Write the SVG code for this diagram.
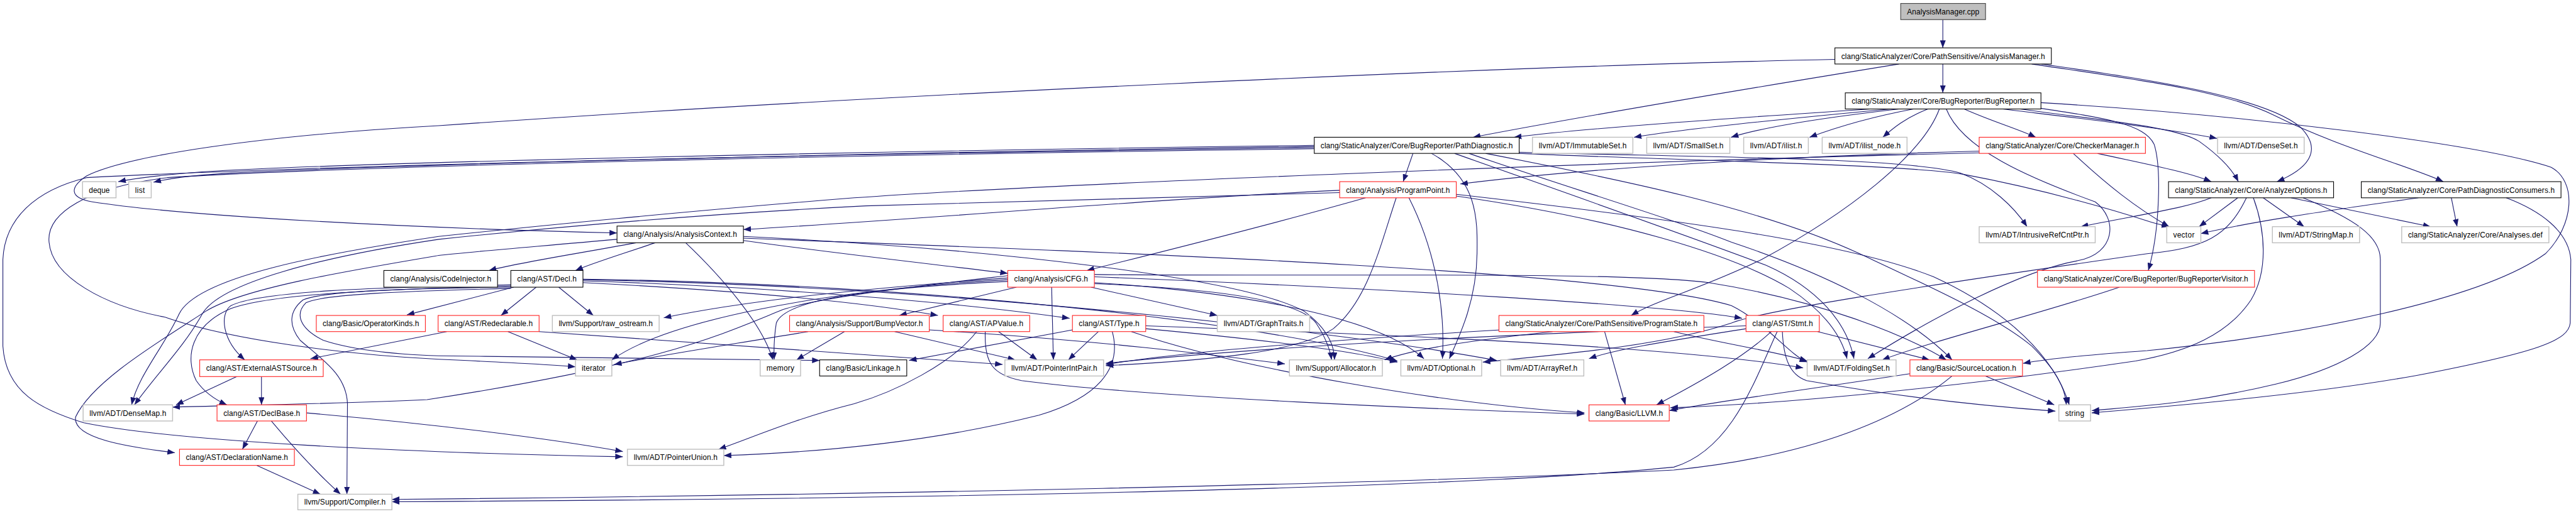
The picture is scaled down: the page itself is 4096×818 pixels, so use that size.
<svg xmlns="http://www.w3.org/2000/svg" width="4096" height="818" viewBox="0 0 4096 818">
<defs>
<style>
.e{fill:none;stroke:#191970;stroke-width:1.2;marker-end:url(#a)}
.n rect{fill:#fff;stroke-width:1.2}
.b rect{stroke:#000}
.r rect{stroke:#ff2020}
.g rect{stroke:#c0c0c0;stroke-width:1.6}
.c rect{fill:#bfbfbf;stroke:#404040}
text{font-family:"Liberation Sans",Arial,sans-serif;font-size:13px;fill:#000;text-anchor:middle}
</style>
<marker id="a" markerUnits="userSpaceOnUse" markerWidth="14" markerHeight="10" refX="13" refY="5" orient="auto" viewBox="0 0 14 10"><path d="M0,0 L13,5 L0,10 z" fill="#191970"/></marker>
</defs>
<rect width="4096" height="818" fill="#fff"/>
<g transform="scale(0.91777)">
<g id="edges">
<path class="e" d="M3366,34 L3366,83"/>
<path class="e" d="M3366,111 L3366,161"/>
<path class="e" d="M3290,111 C3050,150 2750,200 2552,238"/>
<path class="e" d="M3179,103 C2600,115 1500,165 760,218 C450,235 220,270 150,305 C120,325 120,343 160,350 C320,375 700,395 1069,404"/>
<path class="e" d="M3537,111 C3700,135 3920,165 3985,220 C4025,260 4000,292 3945,315"/>
<path class="e" d="M3520,111 C3680,135 3850,155 3940,200 C4050,255 4180,290 4233,315"/>
<path class="e" d="M3240,189 C3000,205 2750,222 2623,238"/>
<path class="e" d="M3275,189 C3050,210 2900,226 2831,238"/>
<path class="e" d="M3290,189 C3150,205 3050,222 2999,238"/>
<path class="e" d="M3315,189 C3230,205 3170,225 3135,238"/>
<path class="e" d="M3340,189 C3300,205 3280,222 3262,238"/>
<path class="e" d="M3403,189 C3450,210 3500,225 3527,238"/>
<path class="e" d="M3360,189 C3330,270 3200,370 3052,450 C2950,500 2870,520 2826,547"/>
<path class="e" d="M3372,189 C3400,260 3520,310 3630,350 C3670,380 3665,440 3600,452 C3500,470 3350,550 3236,622"/>
<path class="e" d="M3536,178 C3900,200 4300,250 4420,290 C4465,315 4460,390 4410,440 C4300,520 4000,580 3720,608 C3620,615 3550,622 3505,630"/>
<path class="e" d="M3470,189 C3600,205 3750,222 3841,240"/>
<path class="e" d="M3500,189 C3650,210 3770,220 3810,245 C3845,270 3868,295 3878,315"/>
<path class="e" d="M3530,187 C3650,205 3715,215 3732,250 C3745,290 3742,400 3722,469"/>
<path class="e" d="M3429,262 C3200,268 2800,285 2530,319"/>
<path class="e" d="M3429,265 C2800,280 1800,320 1480,343 C1200,365 900,395 760,410 C560,440 340,480 310,545 C285,600 240,650 228,702"/>
<path class="e" d="M3634,266 C3720,285 3790,298 3831,315"/>
<path class="e" d="M3592,266 C3650,320 3700,360 3758,393"/>
<path class="e" d="M2277,252 C1500,262 600,282 350,298 C270,304 230,310 205,315"/>
<path class="e" d="M2277,254 C1500,265 700,285 400,300 C320,305 290,310 266,316"/>
<path class="e" d="M2277,256 C1500,266 600,285 150,308 C60,330 8,380 5,450 L5,600 C10,680 70,710 145,733 C300,765 700,785 1079,792"/>
<path class="e" d="M2277,258 C1500,268 600,288 290,308 C150,325 80,370 85,420 C90,480 180,530 286,550 C400,590 600,615 760,623 C850,627 950,632 997,636"/>
<path class="e" d="M2448,266 L2431,315"/>
<path class="e" d="M2632,264 C2900,272 3300,272 3396,300 C3450,320 3490,360 3512,393"/>
<path class="e" d="M2480,266 C2560,310 2560,380 2559,440 C2558,520 2530,580 2511,622"/>
<path class="e" d="M2574,266 C2800,310 3050,360 3222,440 C3350,500 3460,550 3520,600 C3560,640 3578,670 3580,702"/>
<path class="e" d="M2545,266 C2700,320 2900,380 3000,420 C3150,470 3300,540 3382,624"/>
<path class="e" d="M2520,266 C2700,330 2900,400 3060,460 C3150,500 3200,560 3212,622"/>
<path class="e" d="M2632,266 C2900,278 3300,285 3400,302 C3550,330 3680,370 3720,383 C3735,388 3745,390 3758,393"/>
<path class="e" d="M2321,330 C2000,345 1600,380 1288,398"/>
<path class="e" d="M2366,343 C2200,390 2000,440 1883,469"/>
<path class="e" d="M2321,334 C2000,345 1700,352 1500,357 C1200,372 950,395 760,415 C560,445 380,490 350,545 C320,600 270,650 233,702"/>
<path class="e" d="M2419,343 C2390,430 2370,520 2310,570 C2250,610 2100,625 1916,634"/>
<path class="e" d="M2441,343 C2480,420 2505,520 2499,622"/>
<path class="e" d="M2523,340 C2800,380 3000,440 3100,500 C3160,540 3190,580 3200,622"/>
<path class="e" d="M2523,337 C2900,380 3200,420 3350,480 C3480,540 3560,620 3585,702"/>
<path class="e" d="M1102,421 C1000,440 900,455 847,469"/>
<path class="e" d="M1135,421 C1080,440 1030,455 997,469"/>
<path class="e" d="M1188,421 C1250,480 1320,560 1339,624"/>
<path class="e" d="M1288,417 C1450,440 1650,462 1746,474"/>
<path class="e" d="M1288,410 C1700,430 2150,480 2260,540 C2300,570 2312,600 2312,624"/>
<path class="e" d="M1288,413 C2000,440 2800,470 3000,530 C3060,560 3100,615 3131,628"/>
<path class="e" d="M1069,415 C900,430 800,438 760,443 C600,470 420,500 356,540 C280,590 160,660 131,723 C125,760 220,775 303,785"/>
<path class="e" d="M890,498 L705,546"/>
<path class="e" d="M885,494 C650,498 450,505 400,530 C380,545 385,590 424,624"/>
<path class="e" d="M885,496 C650,502 470,510 400,535 C330,565 320,620 340,660 C355,682 375,694 393,702"/>
<path class="e" d="M885,498 C700,500 560,505 525,520 C500,540 500,565 520,590 C560,625 600,650 602,700 L601,857"/>
<path class="e" d="M885,500 C700,505 560,510 530,525 C510,545 520,570 560,590 C620,610 700,615 760,617 C1000,620 1250,622 1420,625"/>
<path class="e" d="M929,498 L868,547"/>
<path class="e" d="M968,498 L1028,547"/>
<path class="e" d="M1010,490 C1300,505 1500,525 1625,547"/>
<path class="e" d="M1010,487 C1400,500 1700,530 1853,552"/>
<path class="e" d="M1010,485 C1600,495 2300,570 2593,625"/>
<path class="e" d="M1010,484 C1600,492 2200,560 2421,626"/>
<path class="e" d="M1746,478 C1600,495 1420,515 1356,537 C1250,580 1150,630 740,693 C600,700 400,703 299,706"/>
<path class="e" d="M1746,482 C1500,500 1300,520 1150,551"/>
<path class="e" d="M1746,485 C1400,505 1150,560 1060,624"/>
<path class="e" d="M1746,488 C1500,500 1360,520 1345,560 C1340,590 1341,610 1341,624"/>
<path class="e" d="M1761,498 L1558,547"/>
<path class="e" d="M1822,498 L1825,624"/>
<path class="e" d="M1890,498 L2109,547"/>
<path class="e" d="M1896,480 C2400,500 2900,530 3018,552"/>
<path class="e" d="M1896,476 C2300,480 2800,470 2960,490 C3150,520 3300,580 3372,624"/>
<path class="e" d="M1896,490 C2200,510 2400,560 2467,622"/>
<path class="e" d="M1896,492 C2100,500 2250,520 2280,560 C2300,590 2305,610 2307,624"/>
<path class="e" d="M1550,575 L1759,624"/>
<path class="e" d="M1610,572 C1900,590 2100,615 2226,631"/>
<path class="e" d="M1400,575 C1250,600 1150,615 1064,632"/>
<path class="e" d="M1463,575 L1380,624"/>
<path class="e" d="M1730,575 L1797,624"/>
<path class="e" d="M1692,575 C1650,630 1550,680 1480,700 C1380,725 1300,760 1245,779"/>
<path class="e" d="M1707,575 C1705,630 1720,650 1770,660 C2000,690 2500,710 2745,718"/>
<path class="e" d="M1858,572 L1575,625"/>
<path class="e" d="M1903,575 L1851,624"/>
<path class="e" d="M1927,575 C1945,640 1900,690 1800,720 C1600,770 1400,785 1254,790"/>
<path class="e" d="M1960,575 C2150,640 2500,700 2745,716"/>
<path class="e" d="M1985,565 C2400,580 2900,600 3124,638"/>
<path class="e" d="M1985,570 C2200,590 2350,610 2421,628"/>
<path class="e" d="M774,575 C700,590 620,605 538,622"/>
<path class="e" d="M934,575 C1300,600 1600,620 1737,632"/>
<path class="e" d="M880,575 L1000,624"/>
<path class="e" d="M453,652 L453,702"/>
<path class="e" d="M412,652 L305,702"/>
<path class="e" d="M446,730 L420,779"/>
<path class="e" d="M470,730 C520,790 560,830 590,857"/>
<path class="e" d="M531,716 C750,735 950,760 1079,783"/>
<path class="e" d="M445,807 L555,857"/>
<path class="e" d="M3149,575 L3343,624"/>
<path class="e" d="M3069,575 C3020,620 2950,660 2870,702"/>
<path class="e" d="M3088,575 C3090,620 3100,650 3130,660 C3300,690 3450,705 3561,713"/>
<path class="e" d="M3079,575 C3040,660 3000,780 2900,810 C2500,850 1500,866 679,870"/>
<path class="e" d="M3382,652 C3300,720 3150,790 2900,815 C2400,840 1500,858 679,866"/>
<path class="e" d="M3309,648 C3100,680 2950,700 2892,712"/>
<path class="e" d="M3440,652 L3559,702"/>
<path class="e" d="M3025,570 C2900,590 2800,605 2753,622"/>
<path class="e" d="M3025,565 C2600,580 2200,600 1916,630"/>
<path class="e" d="M2780,575 L2816,702"/>
<path class="e" d="M2690,575 C2550,590 2450,605 2399,624"/>
<path class="e" d="M2600,572 C2300,590 2050,610 1916,632"/>
<path class="e" d="M2900,575 C2980,595 3080,610 3131,626"/>
<path class="e" d="M3672,498 C3550,540 3350,590 3261,624"/>
<path class="e" d="M3877,343 L3810,393"/>
<path class="e" d="M3921,343 L3992,393"/>
<path class="e" d="M3969,343 L4211,393"/>
<path class="e" d="M3831,343 C3790,360 3720,370 3605,393"/>
<path class="e" d="M3990,343 C4080,380 4124,410 4124,450 L4124,560 C4124,600 4050,640 3943,666 C3800,700 3700,705 3624,712"/>
<path class="e" d="M3904,343 C3925,400 3930,470 3900,520 C3860,580 3790,610 3700,626 C3400,670 3100,700 2894,707"/>
<path class="e" d="M3892,343 C3860,410 3820,430 3720,440 C3300,500 3050,540 3000,560 C2880,600 2700,615 2569,628"/>
<path class="e" d="M4190,343 C4000,370 3900,385 3813,405"/>
<path class="e" d="M4247,343 L4257,393"/>
<path class="e" d="M4342,343 C4400,365 4450,400 4454,450 L4453,560 C4450,590 4400,610 4187,651 C4000,685 3750,705 3624,716"/>
</g>
<g id="n0" class="n c"><rect x="3293" y="6" width="147" height="28"/><text x="3366.5" y="25" textLength="125">AnalysisManager.cpp</text></g>
<g id="n1" class="n b"><rect x="3179" y="83" width="375" height="28"/><text x="3366.5" y="102" textLength="353">clang/StaticAnalyzer/Core/PathSensitive/AnalysisManager.h</text></g>
<g id="n2" class="n b"><rect x="3197" y="161" width="339" height="28"/><text x="3366.5" y="180" textLength="317">clang/StaticAnalyzer/Core/BugReporter/BugReporter.h</text></g>
<g id="n3" class="n b"><rect x="2277" y="238" width="355" height="28"/><text x="2454.5" y="257" textLength="333">clang/StaticAnalyzer/Core/BugReporter/PathDiagnostic.h</text></g>
<g id="n4" class="n g"><rect x="2655" y="238" width="174" height="28"/><text x="2742" y="257" textLength="152">llvm/ADT/ImmutableSet.h</text></g>
<g id="n5" class="n g"><rect x="2853" y="238" width="144" height="28"/><text x="2925" y="257" textLength="122">llvm/ADT/SmallSet.h</text></g>
<g id="n6" class="n g"><rect x="3021" y="238" width="112" height="28"/><text x="3077" y="257" textLength="90">llvm/ADT/ilist.h</text></g>
<g id="n7" class="n g"><rect x="3157" y="238" width="147" height="28"/><text x="3230.5" y="257" textLength="125">llvm/ADT/ilist_node.h</text></g>
<g id="n8" class="n r"><rect x="3429" y="238" width="288" height="28"/><text x="3573" y="257" textLength="266">clang/StaticAnalyzer/Core/CheckerManager.h</text></g>
<g id="n9" class="n g"><rect x="3842" y="238" width="150" height="28"/><text x="3917" y="257" textLength="128">llvm/ADT/DenseSet.h</text></g>
<g id="n10" class="n g"><rect x="143" y="315" width="58" height="28"/><text x="172" y="334" textLength="36">deque</text></g>
<g id="n11" class="n g"><rect x="223" y="315" width="39" height="28"/><text x="242.5" y="334" textLength="17">list</text></g>
<g id="n12" class="n r"><rect x="2321" y="315" width="202" height="28"/><text x="2422" y="334" textLength="180">clang/Analysis/ProgramPoint.h</text></g>
<g id="n13" class="n b"><rect x="3757" y="315" width="286" height="28"/><text x="3900" y="334" textLength="264">clang/StaticAnalyzer/Core/AnalyzerOptions.h</text></g>
<g id="n14" class="n b"><rect x="4091" y="315" width="346" height="28"/><text x="4264" y="334" textLength="324">clang/StaticAnalyzer/Core/PathDiagnosticConsumers.h</text></g>
<g id="n15" class="n b"><rect x="1069" y="392" width="219" height="29"/><text x="1178.5" y="411" textLength="197">clang/Analysis/AnalysisContext.h</text></g>
<g id="n16" class="n g"><rect x="3429" y="393" width="201" height="28"/><text x="3529.5" y="412" textLength="179">llvm/ADT/IntrusiveRefCntPtr.h</text></g>
<g id="n17" class="n g"><rect x="3754" y="393" width="59" height="28"/><text x="3783.5" y="412" textLength="37">vector</text></g>
<g id="n18" class="n g"><rect x="3937" y="393" width="151" height="28"/><text x="4012.5" y="412" textLength="129">llvm/ADT/StringMap.h</text></g>
<g id="n19" class="n g"><rect x="4161" y="393" width="255" height="28"/><text x="4288.5" y="412" textLength="233">clang/StaticAnalyzer/Core/Analyses.def</text></g>
<g id="n20" class="n b"><rect x="665" y="469" width="197" height="29"/><text x="763.5" y="488" textLength="175">clang/Analysis/CodeInjector.h</text></g>
<g id="n21" class="n b"><rect x="885" y="469" width="125" height="29"/><text x="947.5" y="488" textLength="103">clang/AST/Decl.h</text></g>
<g id="n22" class="n r"><rect x="1746" y="469" width="150" height="29"/><text x="1821" y="488" textLength="128">clang/Analysis/CFG.h</text></g>
<g id="n23" class="n r"><rect x="3530" y="469" width="376" height="29"/><text x="3718" y="488" textLength="354">clang/StaticAnalyzer/Core/BugReporter/BugReporterVisitor.h</text></g>
<g id="n24" class="n r"><rect x="548" y="547" width="189" height="28"/><text x="642.5" y="566" textLength="167">clang/Basic/OperatorKinds.h</text></g>
<g id="n25" class="n r"><rect x="759" y="547" width="175" height="28"/><text x="846.5" y="566" textLength="153">clang/AST/Redeclarable.h</text></g>
<g id="n26" class="n g"><rect x="957" y="547" width="185" height="28"/><text x="1049.5" y="566" textLength="163">llvm/Support/raw_ostream.h</text></g>
<g id="n27" class="n r"><rect x="1368" y="547" width="242" height="28"/><text x="1489" y="566" textLength="220">clang/Analysis/Support/BumpVector.h</text></g>
<g id="n28" class="n r"><rect x="1634" y="547" width="150" height="28"/><text x="1709" y="566" textLength="128">clang/AST/APValue.h</text></g>
<g id="n29" class="n r"><rect x="1858" y="547" width="127" height="28"/><text x="1921.5" y="566" textLength="105">clang/AST/Type.h</text></g>
<g id="n30" class="n g"><rect x="2109" y="547" width="160" height="28"/><text x="2189" y="566" textLength="138">llvm/ADT/GraphTraits.h</text></g>
<g id="n31" class="n r"><rect x="2597" y="547" width="355" height="28"/><text x="2774.5" y="566" textLength="333">clang/StaticAnalyzer/Core/PathSensitive/ProgramState.h</text></g>
<g id="n32" class="n r"><rect x="3025" y="547" width="127" height="28"/><text x="3088.5" y="566" textLength="105">clang/AST/Stmt.h</text></g>
<g id="n33" class="n r"><rect x="346" y="624" width="214" height="29"/><text x="453" y="643" textLength="192">clang/AST/ExternalASTSource.h</text></g>
<g id="n34" class="n g"><rect x="997" y="624" width="63" height="28"/><text x="1028.5" y="643" textLength="41">iterator</text></g>
<g id="n35" class="n g"><rect x="1317" y="624" width="70" height="28"/><text x="1352" y="643" textLength="48">memory</text></g>
<g id="n36" class="n b"><rect x="1420" y="624" width="151" height="28"/><text x="1495.5" y="643" textLength="129">clang/Basic/Linkage.h</text></g>
<g id="n37" class="n g"><rect x="1741" y="624" width="171" height="28"/><text x="1826.5" y="643" textLength="149">llvm/ADT/PointerIntPair.h</text></g>
<g id="n38" class="n g"><rect x="2234" y="624" width="161" height="28"/><text x="2314.5" y="643" textLength="139">llvm/Support/Allocator.h</text></g>
<g id="n39" class="n g"><rect x="2427" y="624" width="140" height="28"/><text x="2497" y="643" textLength="118">llvm/ADT/Optional.h</text></g>
<g id="n40" class="n g"><rect x="2600" y="624" width="144" height="28"/><text x="2672" y="643" textLength="122">llvm/ADT/ArrayRef.h</text></g>
<g id="n41" class="n g"><rect x="3131" y="624" width="154" height="28"/><text x="3208" y="643" textLength="132">llvm/ADT/FoldingSet.h</text></g>
<g id="n42" class="n r"><rect x="3309" y="624" width="195" height="28"/><text x="3406.5" y="643" textLength="173">clang/Basic/SourceLocation.h</text></g>
<g id="n43" class="n g"><rect x="144" y="702" width="155" height="28"/><text x="221.5" y="721" textLength="133">llvm/ADT/DenseMap.h</text></g>
<g id="n44" class="n r"><rect x="376" y="702" width="155" height="28"/><text x="453.5" y="721" textLength="133">clang/AST/DeclBase.h</text></g>
<g id="n45" class="n r"><rect x="2753" y="702" width="139" height="28"/><text x="2822.5" y="721" textLength="117">clang/Basic/LLVM.h</text></g>
<g id="n46" class="n g"><rect x="3567" y="702" width="55" height="28"/><text x="3594.5" y="721" textLength="33">string</text></g>
<g id="n47" class="n r"><rect x="311" y="779" width="199" height="28"/><text x="410.5" y="798" textLength="177">clang/AST/DeclarationName.h</text></g>
<g id="n48" class="n g"><rect x="1087" y="779" width="167" height="28"/><text x="1170.5" y="798" textLength="145">llvm/ADT/PointerUnion.h</text></g>
<g id="n49" class="n g"><rect x="516" y="857" width="163" height="27"/><text x="597.5" y="875" textLength="141">llvm/Support/Compiler.h</text></g>
</g>
</svg>
